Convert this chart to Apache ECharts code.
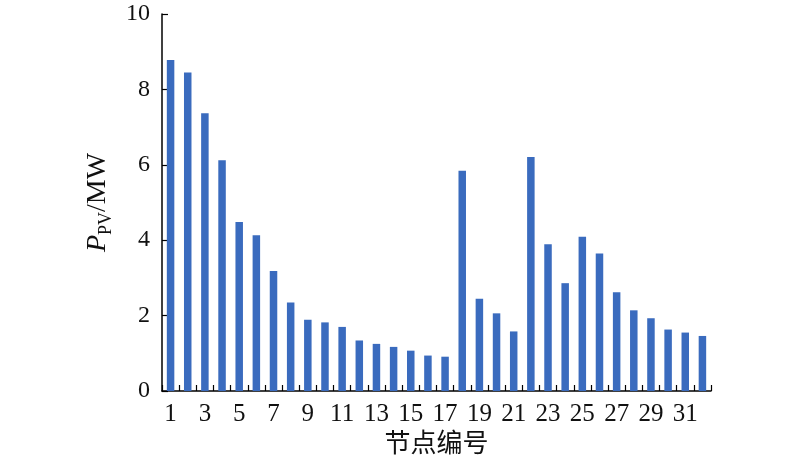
<!DOCTYPE html>
<html>
<head>
<meta charset="utf-8">
<script src="https://cdn.jsdelivr.net/npm/echarts@6/dist/echarts.min.js"></script>
<style>html,body{margin:0;padding:0;background:#fff}#c{width:800px;height:457px}</style>
</head>
<body>
<div id="c"></div>
<script>
const nodes = ['1','2','3','4','5','6','7','8','9','10','11','12','13','14','15','16','17','18','19','20','21','22','23','24','25','26','27','28','29','30','31','32'];
const ppv = [8.78,8.45,7.37,6.12,4.48,4.13,3.18,2.35,1.89,1.82,1.70,1.34,1.25,1.17,1.07,0.94,0.91,5.84,2.45,2.06,1.58,6.21,3.89,2.86,4.09,3.65,2.62,2.14,1.93,1.63,1.55,1.46];
const yTicks = {min: 0, max: 10, interval: 2};
const xTitle = '节点编号';

const FONT = '"Liberation Serif", "Times New Roman", "Noto Sans CJK SC", serif';
const chart = echarts.init(document.getElementById('c'), null, {renderer: 'canvas'});
chart.setOption({
  animation: false,
  backgroundColor: '#fff',
  grid: {left: 162, right: 89, top: 14, bottom: 66, containLabel: false, outerBoundsMode: 'none'},
  xAxis: {
    type: 'category',
    data: nodes,
    boundaryGap: true,
    axisLine: {lineStyle: {color: '#000', width: 1.5}},
    axisTick: {show: true, inside: true, length: 6, interval: 0, lineStyle: {color: '#000', width: 1.2}},
    axisLabel: {interval: 1, color: '#111', fontFamily: FONT, fontSize: 25, margin: 11},
    name: xTitle,
    nameLocation: 'middle',
    nameGap: 41,
    nameTextStyle: {fontFamily: FONT, fontSize: 26, color: '#111'}
  },
  yAxis: {
    type: 'value',
    min: yTicks.min, max: yTicks.max, interval: yTicks.interval,
    splitLine: {show: false},
    axisLine: {show: true, lineStyle: {color: '#000', width: 1.5}},
    axisTick: {show: true, inside: true, length: 6, lineStyle: {color: '#000', width: 1.2}},
    axisLabel: {color: '#111', fontFamily: FONT, fontSize: 24, margin: 12},
    name: '{i|P}{s|PV}{n|/MW}',
    nameLocation: 'middle',
    nameRotate: 90,
    nameGap: 44,
    nameTextStyle: {
      fontFamily: FONT, color: '#111',
      rich: {
        i: {fontFamily: FONT, fontStyle: 'italic', fontSize: 28, lineHeight: 34, verticalAlign: 'middle', color: '#111'},
        s: {fontFamily: FONT, fontSize: 18, lineHeight: 18, verticalAlign: 'bottom', color: '#111'},
        n: {fontFamily: FONT, fontSize: 28, lineHeight: 34, verticalAlign: 'middle', color: '#111'}
      }
    }
  },
  series: [{
    type: 'bar',
    data: ppv,
    barWidth: 7.5,
    itemStyle: {color: '#3A6BBE'}
  }]
});
</script>
</body>
</html>
